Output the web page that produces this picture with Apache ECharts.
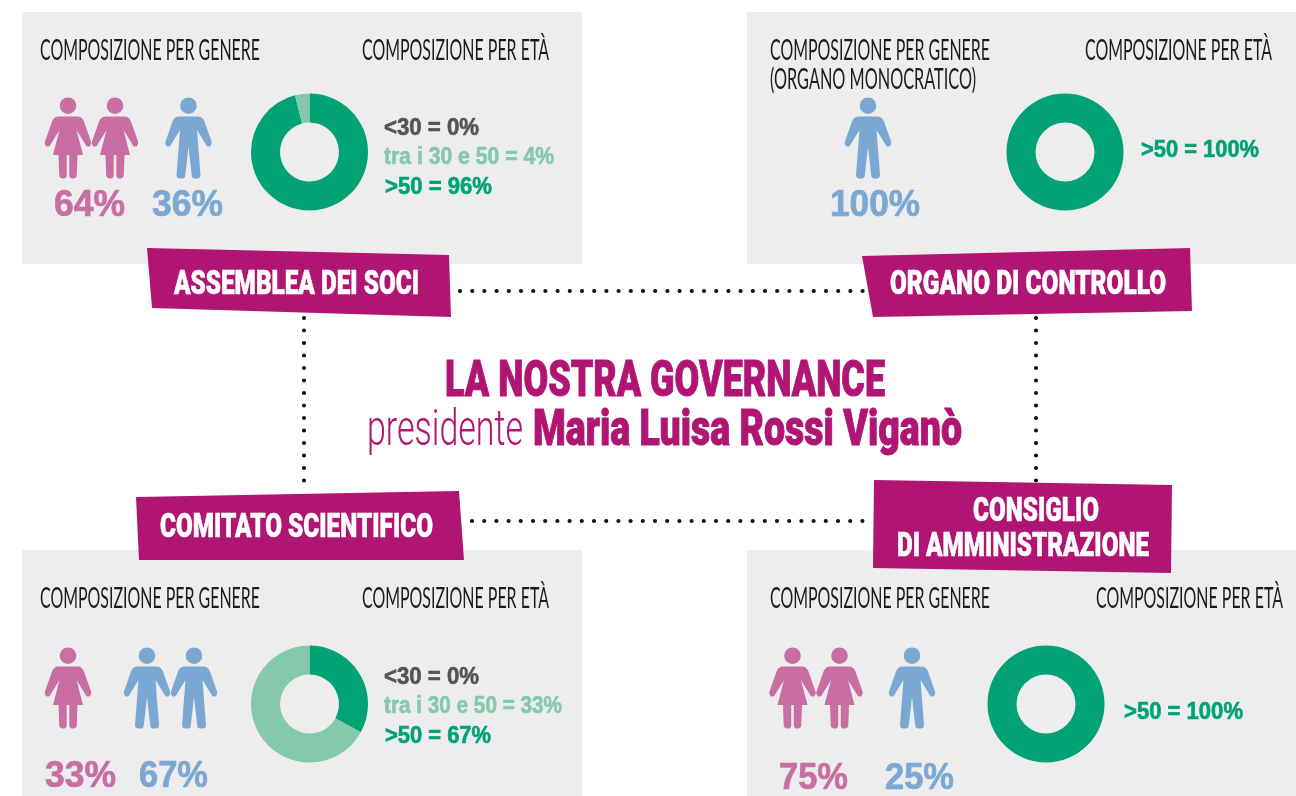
<!DOCTYPE html>
<html><head><meta charset="utf-8">
<style>html,body{margin:0;padding:0;background:#fff}#c{width:1296px;height:796px}</style>
<script src="https://cdn.jsdelivr.net/npm/echarts@6/dist/echarts.min.js"></script>
</head><body><div id="c"></div>
<script>
// ---- data ----
const assembleaGender = [64, 36];
const controlloGender = [100];
const comitatoGender = [33, 67];
const consiglioGender = [75, 25];
const assembleaSlices = [96, 4];
const controlloSlices = [100, 0];
const comitatoSlices = [33, 67];
const consiglioSlices = [100, 0];
const assembleaAgeLabels = ['<30 = 0%', 'tra i 30 e 50 = 4%', '>50 = 96%'];
const controlloAgeLabels = ['>50 = 100%'];
const comitatoAgeLabels = ['<30 = 0%', 'tra i 30 e 50 = 33%', '>50 = 67%'];
const consiglioAgeLabels = ['>50 = 100%'];
const sliceNames = ['>50', 'tra i 30 e 50'];
const titleMain = 'LA NOSTRA GOVERNANCE';
const titleLead = 'presidente';
const titleName = 'Maria Luisa Rossi Viganò';
const headGender = 'COMPOSIZIONE PER GENERE';
const headGenderMono = '(ORGANO MONOCRATICO)';
const headAge = 'COMPOSIZIONE PER ETÀ';

// ---- styles ----
const PINK='#c86ea3', BLUE='#7ba8d2', DARK='#00a276', LIGHT='#84c9ae', GREY='#545454', MAG='#b01573', BG='#ededed';
const ctx = document.createElement('canvas').getContext('2d');
const NUM={font:'700 36px "Liberation Sans"',dy:2.5,sw:.7}, AGE={font:'700 23px "Liberation Sans"',dy:2,sw:.6}, HEAD={font:'400 29px Lato',dy:0,sw:0},
      BAN={font:'900 33px Roboto',dy:3.5,sw:.6}, TT={font:'900 50px Roboto',dy:5,sw:1}, THIN={font:'300 50px Roboto',dy:5,sw:0};
function txt(s, x, y, w, f, fill){
  ctx.font = f.font;
  return {type:'text', x, y:y+f.dy, scaleX: w/ctx.measureText(s).width, silent:true,
    style:{text:s, x:0, y:0, font:f.font, fill, stroke:f.sw?fill:null, lineWidth:f.sw, align:'left', verticalAlign:'middle'}};
}
const WOMAN='M0 .4a8.3 8.3 0 1 1-.01 0zM-9.5 19.5H9.5C12.5 19.5 14.5 21 16 24.5L23 44.5C23.6 46.5 23 47.5 21.5 49.5H19.5C18.8 49.5 18.3 49 18 48.5L8.5 33 15 58H9.5L8.8 78.5C8.5 80.5 7 81.4 5.5 81.4H4C2.5 81.4 1.4 80.3 1.3 78.5L1.3 58H-1.3L-1.3 78.5C-1.4 80.3-2.5 81.4-4 81.4H-5.5C-7 81.4-8.5 80.5-8.8 78.5L-9.5 58H-15L-8.5 33-18 48.5C-18.3 49-18.8 49.5-19.5 49.5H-21.5C-23 47.5-23.6 46.5-23 44.5L-16 24.5C-14.5 21-12.5 19.5-9.5 19.5Z';
const MAN='M0 .4a8.3 8.3 0 1 1-.01 0zM-9.5 19.5H9.5C12.5 19.5 14.5 21 16 24.5L23 44.5C23.6 46.5 23 47.5 21.5 49.5H19.5C18.8 49.5 18.3 49 18 48.5L8.5 33 12 78C12 80.5 10.5 81.4 8.5 81.4H6C4.5 81.4 3.6 80.5 3.3 79L0 50-3.3 79C-3.6 80.5-4.5 81.4-6 81.4H-8.5C-10.5 81.4-12 80.5-12 78L-8.5 33-18 48.5C-18.3 49-18.8 49.5-19.5 49.5H-21.5C-23 47.5-23.6 46.5-23 44.5L-16 24.5C-14.5 21-12.5 19.5-9.5 19.5Z';
echarts.graphic.registerShape('woman', echarts.graphic.extendPath(WOMAN));
echarts.graphic.registerShape('man', echarts.graphic.extendPath(MAN));
function icon(kind, x, y, fill){
  return {type:kind, x, y, silent:true, style:{fill}};
}
function rect(x,y,w,h){return {type:'rect',silent:true,shape:{x,y,width:w,height:h},style:{fill:BG}};}
function banner(points){return {type:'polygon',silent:true,shape:{points},style:{fill:MAG}};}
function dots(x1,y1,x2,y2,gap){return {type:'line',silent:true,shape:{x1,y1,x2,y2},style:{stroke:'#111',lineWidth:4.2,lineCap:'round',lineDash:[0,gap]}};}
function pie(name, cx, cy, vals){
  return {type:'pie', name, center:[cx,cy], radius:[29.5,58.5], startAngle:90, clockwise:true,
    silent:true, animation:false, label:{show:false}, labelLine:{show:false}, itemStyle:{borderWidth:0},
    data: vals.map((v,i)=>({name:sliceNames[i], value:v, itemStyle:{color:i?LIGHT:DARK}}))};
}
const INK='#1c1c1c';
const g = [
  rect(22,12,560,252), rect(747,12,549,252), rect(22,550,560,246), rect(747,550,549,246),
  dots(460,291,868,291,12.2), dots(472,521,868,521,12.2), dots(304,318,304,482,12.5), dots(1036,318,1036,482,12.5),
  // panel headings
  txt(headGender,40,51,220,HEAD,INK), txt(headAge,362,51,187,HEAD,INK),
  txt(headGender,770,51,220,HEAD,INK), txt(headGenderMono,770,80,206,HEAD,INK), txt(headAge,1085,51,187,HEAD,INK),
  txt(headGender,40,599,220,HEAD,INK), txt(headAge,362,599,187,HEAD,INK),
  txt(headGender,770,599,220,HEAD,INK), txt(headAge,1096,599,187,HEAD,INK),
  // icons
  icon('woman',68,97,PINK), icon('woman',115,97,PINK), icon('man',188.5,97,BLUE),
  icon('man',868,97,BLUE),
  icon('woman',68,647,PINK), icon('man',147,647,BLUE), icon('man',194,647,BLUE),
  icon('woman',792.5,647,PINK), icon('woman',839.5,647,PINK), icon('man',912,647,BLUE),
  // gender numbers
  txt(assembleaGender[0]+'%',54,204,71,NUM,PINK), txt(assembleaGender[1]+'%',152,204,71,NUM,BLUE),
  txt(controlloGender[0]+'%',830,204,90,NUM,BLUE),
  txt(comitatoGender[0]+'%',45,775,71,NUM,PINK), txt(comitatoGender[1]+'%',139,775,69,NUM,BLUE),
  txt(consiglioGender[0]+'%',779,777,69,NUM,PINK), txt(consiglioGender[1]+'%',885,777,69,NUM,BLUE),
  // age labels
  txt(assembleaAgeLabels[0],384,127,95,AGE,GREY), txt(assembleaAgeLabels[1],384,156,170,AGE,LIGHT), txt(assembleaAgeLabels[2],385,186,107,AGE,DARK),
  txt(controlloAgeLabels[0],1141,149,118,AGE,DARK),
  txt(comitatoAgeLabels[0],384,676,95,AGE,GREY), txt(comitatoAgeLabels[1],384,705,178,AGE,LIGHT), txt(comitatoAgeLabels[2],385,735,106,AGE,DARK),
  txt(consiglioAgeLabels[0],1124,711,119,AGE,DARK),
  // banners
  banner([[147,248],[449,255],[451,317],[152,308]]),
  banner([[862,256],[1190,248],[1192,311],[873,317]]),
  banner([[136,497],[459,491],[464,560],[139,560]]),
  banner([[874,480],[1172,485],[1171,573],[873,568]]),
  txt('ASSEMBLEA DEI SOCI',174,282,245,BAN,'#fff'),
  txt('ORGANO DI CONTROLLO',890,282,276,BAN,'#fff'),
  txt('COMITATO SCIENTIFICO',160,525,273,BAN,'#fff'),
  txt('CONSIGLIO',973,509,126,BAN,'#fff'),
  txt('DI AMMINISTRAZIONE',897,544,252,BAN,'#fff'),
  // title
  txt(titleMain,445,378,440,TT,MAG),
  txt(titleLead,367,427,156,THIN,MAG),
  txt(titleName,533,427,429,TT,MAG)
];
const chart = echarts.init(document.getElementById('c'), null, {renderer:'canvas', width:1296, height:796});
chart.setOption({
  animation:false, backgroundColor:'#fff',
  graphic:{elements:g},
  series:[
    pie('Assemblea dei soci',309.5,152,assembleaSlices),
    pie('Organo di controllo',1065,152,controlloSlices),
    pie('Comitato scientifico',309.5,704,comitatoSlices),
    pie('Consiglio di amministrazione',1046,704,consiglioSlices)
  ]
});
</script></body></html>
